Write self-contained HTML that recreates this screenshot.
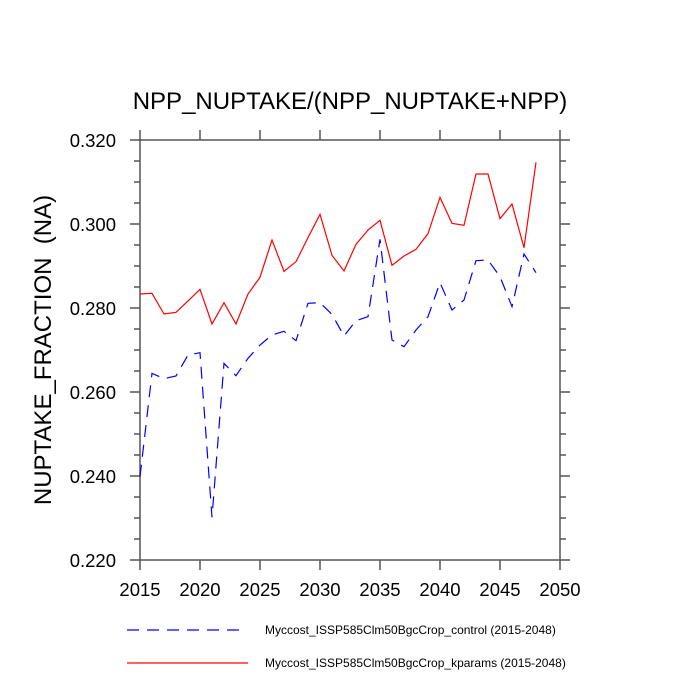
<!DOCTYPE html>
<html><head><style>body{margin:0;background:#fff}svg{display:block}</style></head><body>
<svg width="700" height="700" xmlns="http://www.w3.org/2000/svg" font-family="Liberation Sans, sans-serif">
<text x="350" y="109" font-size="24" text-anchor="middle">NPP_NUPTAKE/(NPP_NUPTAKE+NPP)</text>
<text transform="translate(51,350) rotate(-90)" font-size="24" text-anchor="middle" xml:space="preserve">NUPTAKE_FRACTION&#160; (NA)</text>
<g stroke="#555" stroke-width="1.5" fill="none">
<rect x="140" y="140" width="420" height="420"/>
<path d="M140 560v10M200 560v10M260 560v10M320 560v10M380 560v10M440 560v10M500 560v10M560 560v10M140 140v-10M200 140v-10M260 140v-10M320 140v-10M380 140v-10M440 140v-10M500 140v-10M560 140v-10"/>
<path d="M140 140h-10M140 224h-10M140 308h-10M140 392h-10M140 476h-10M140 560h-10M560 140h10M560 224h10M560 308h10M560 392h10M560 476h10M560 560h10"/>
<path d="M140 161h-6M140 182h-6M140 203h-6M140 245h-6M140 266h-6M140 287h-6M140 329h-6M140 350h-6M140 371h-6M140 413h-6M140 434h-6M140 455h-6M140 497h-6M140 518h-6M140 539h-6M560 161h6M560 182h6M560 203h6M560 245h6M560 266h6M560 287h6M560 329h6M560 350h6M560 371h6M560 413h6M560 434h6M560 455h6M560 497h6M560 518h6M560 539h6"/>
</g>
<g font-size="18.5" text-anchor="end">
<text x="116" y="147">0.320</text><text x="116" y="231">0.300</text><text x="116" y="315">0.280</text><text x="116" y="399">0.260</text><text x="116" y="483">0.240</text><text x="116" y="567">0.220</text>
</g>
<g font-size="18.5" text-anchor="middle">
<text x="140" y="596">2015</text><text x="200" y="596">2020</text><text x="260" y="596">2025</text><text x="320" y="596">2030</text><text x="380" y="596">2035</text><text x="440" y="596">2040</text><text x="500" y="596">2045</text><text x="560" y="596">2050</text>
</g>
<g transform="translate(130,130) scale(0.33333)" fill="none" stroke-width="3.6">
<polyline stroke="#f00" points="30,492 66,490 102,552 138,547 174,513 210,478 246,582 282,518 318,582 354,492 390,442 426,330 462,424 498,395 534,323 570,253 606,376 642,423 678,343 714,300 750,271 786,406 822,378 858,358 894,311 930,202 966,280 1002,286 1038,132 1074,132 1110,266 1146,222 1182,353 1218,97"/>
<polyline stroke="#00f" stroke-dasharray="36,24" points="30,1040 66,730 102,746 138,738 174,675 210,668 246,1162 282,700 318,737 354,685 390,645 426,615 462,604 498,632 534,520 570,518 606,553 642,618 678,572 714,560 750,328 786,630 822,650 858,600 894,560 930,458 966,540 1002,510 1038,392 1074,390 1110,440 1146,530 1182,372 1218,428"/>
</g>
<line x1="127" y1="630" x2="242" y2="630" stroke="#00f" stroke-width="1.2" stroke-dasharray="12,8"/>
<line x1="127" y1="663" x2="248" y2="663" stroke="#f00" stroke-width="1.2"/>
<text x="265" y="634" font-size="12">Myccost_ISSP585Clm50BgcCrop_control (2015-2048)</text>
<text x="265" y="667" font-size="12">Myccost_ISSP585Clm50BgcCrop_kparams (2015-2048)</text>
</svg>
</body></html>
